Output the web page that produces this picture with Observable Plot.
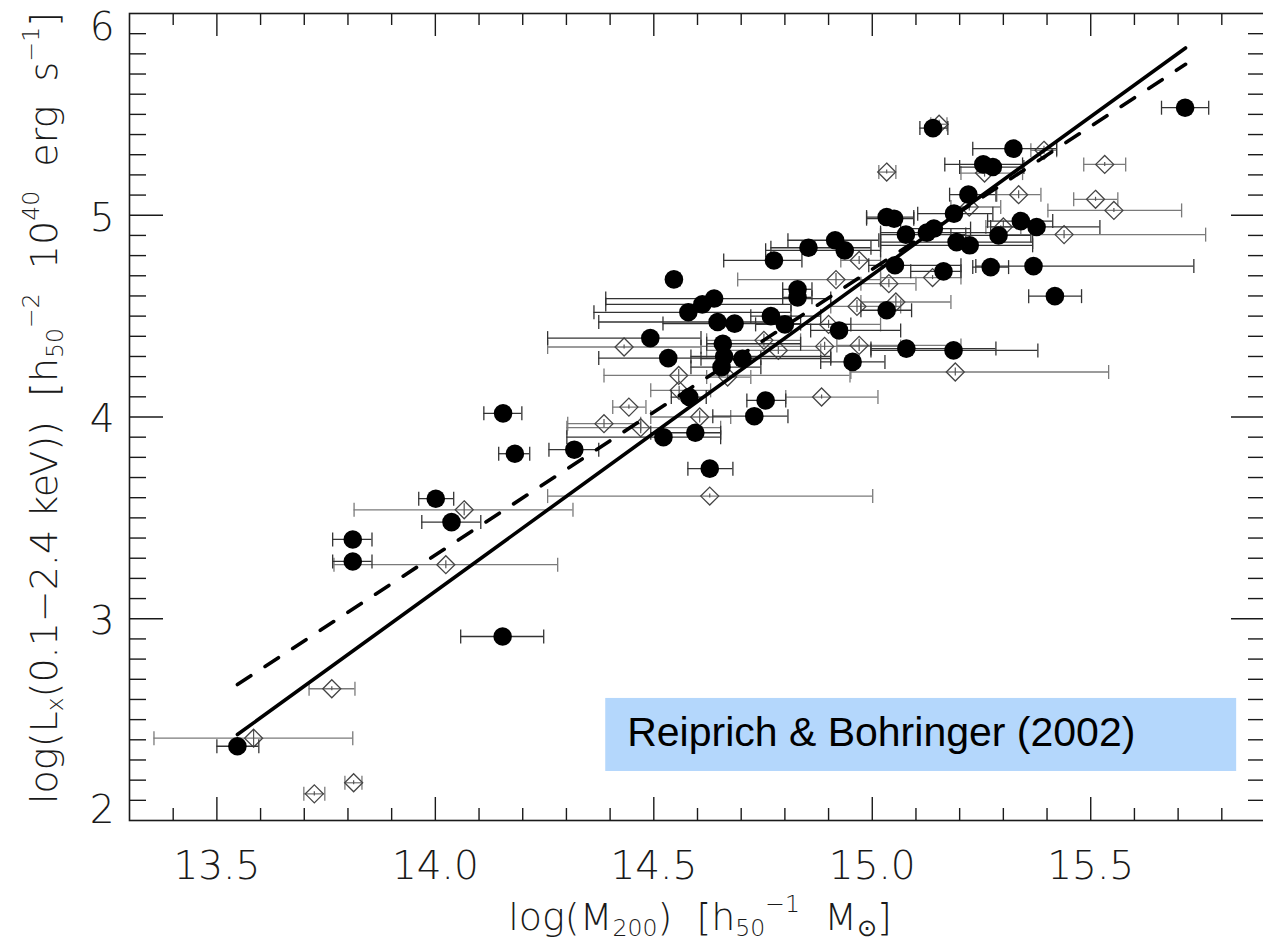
<!DOCTYPE html>
<html><head><meta charset="utf-8">
<script src="https://cdn.jsdelivr.net/npm/d3@7"></script>
<script src="https://cdn.jsdelivr.net/npm/@observablehq/plot@0.6"></script>
<style>
body{margin:0;background:#fff;}
#chart{width:1263px;height:944px;overflow:hidden;}
</style>
</head><body><div id="chart"></div>
<script>
// ---- filled circles: flux-limited sample ----
const circX  = [15.716,15.139,15.323,15.254,15.276,15.220,15.187,15.033,15.050,15.340,15.376,15.077,15.125,15.141,15.289,15.193,15.223,14.937,15.052,15.163,15.271,15.369,15.418,15.033,15.078,15.186,14.955,14.775,14.854,14.915,14.546,14.829,14.829,14.638,14.611,14.579,14.646,14.685,14.768,14.800,14.924,14.492,14.658,14.533,14.661,14.703,14.655,14.756,14.730,14.581,14.522,14.595,14.318,14.628,14.155,14.182,14.001,14.037,13.811,13.811,14.154,13.547];
const circY  = [5.533,5.432,5.330,5.252,5.239,5.102,5.008,4.991,4.983,4.971,4.942,4.904,4.914,4.934,4.900,4.867,4.851,4.826,4.752,4.722,4.743,4.748,4.599,4.529,4.339,4.330,4.273,4.776,4.839,4.876,4.682,4.633,4.593,4.587,4.558,4.519,4.471,4.463,4.500,4.459,4.429,4.391,4.363,4.292,4.300,4.289,4.247,4.082,4.004,4.099,3.900,3.922,3.838,3.744,4.018,3.818,3.595,3.479,3.393,3.284,2.912,2.368];
const circXlo = [15.662,15.109,15.230,15.166,15.200,15.177,15.104,14.987,14.987,15.264,15.271,15.019,15.019,15.065,15.180,15.019,15.019,14.756,14.992,15.088,15.230,15.237,15.358,14.974,14.997,14.997,14.882,14.660,14.768,14.807,14.534,14.795,14.795,14.390,14.390,14.363,14.374,14.521,14.722,14.733,14.859,14.257,14.621,14.374,14.585,14.608,14.585,14.713,14.635,14.540,14.301,14.493,14.260,14.578,14.111,14.145,13.962,13.969,13.765,13.765,14.058,13.500];
const circXhi = [15.770,15.173,15.422,15.344,15.347,15.283,15.276,15.095,15.095,15.413,15.521,15.214,15.294,15.225,15.363,15.367,15.367,15.019,15.203,15.203,15.312,15.736,15.479,15.090,15.283,15.379,15.029,14.839,14.997,15.015,14.560,14.862,14.862,14.905,14.814,14.814,14.814,14.836,14.882,14.951,15.065,14.608,14.836,14.745,14.905,14.905,14.745,14.802,14.807,14.620,14.653,14.653,14.374,14.681,14.198,14.216,14.042,14.104,13.855,13.855,14.248,13.596];

// ---- open diamonds: extended sample ----
const diaX  = [14.066,14.024,13.763,13.584,13.723,13.813,14.970,14.917,15.038,14.965,14.900,14.432,14.752,14.785,14.891,14.970,14.557,14.669,14.558,14.884,14.443,14.386,14.470,14.605,14.628,15.153,15.393,15.033,15.532,15.257,15.335,15.511,15.553,15.222,15.300,15.439,15.138,15.054,15.190];
const diaY  = [3.540,3.268,2.653,2.408,2.132,2.187,4.776,4.681,4.661,4.548,4.459,4.347,4.380,4.330,4.350,4.355,4.206,4.198,4.132,4.099,4.049,3.967,3.947,4.000,3.608,5.451,5.322,5.214,5.252,5.209,5.102,5.079,5.024,5.041,4.942,4.904,4.691,4.570,4.223];
const diaXlo = [13.814,13.768,13.711,13.356,13.699,13.793,14.928,14.692,14.974,14.905,14.814,14.257,14.621,14.621,14.608,14.919,14.386,14.621,14.493,14.802,14.406,14.303,14.301,14.493,14.257,15.134,15.363,15.015,15.484,15.203,15.285,15.461,15.402,15.180,15.260,15.294,15.019,14.974,14.951];
const diaXhi = [14.315,14.280,13.816,13.811,13.747,13.832,15.019,15.019,15.100,15.065,15.019,14.608,14.836,14.882,15.065,15.203,14.949,14.722,14.630,15.013,14.482,14.470,14.653,14.676,15.001,15.171,15.422,15.054,15.580,15.344,15.386,15.562,15.708,15.294,15.340,15.763,15.203,15.180,15.541];
const diaYerr = [0.03,0.02,0.01,0.04,0.01,0.01,0.02,0.03,0.02,0.03,0.02,0.01,0.03,0.02,0.02,0.03,0.03,0.02,0.02,0.01,0.01,0.02,0.03,0.03,0.01,0.02,0.02,0.01,0.01,0.02,0.02,0.01,0.01,0.02,0.03,0.02,0.01,0.03,0.02];

// ---- fitted relations ----
const fitX = [13.547, 15.717];
const fitSolidY = [2.426, 5.829];
const fitDashedY = [2.674, 5.748];

// ---- axes ----
const xDomain = [13.3, 15.9];
const yDomain = [2, 6];
const xTickLabels = [13.5, 14.0, 14.5, 15.0, 15.5];
const yTickLabels = [2, 3, 4, 5, 6];

// ---- annotation ----
const noteLabel = "Reiprich & Bohringer (2002)";
const noteBox = {x1: 14.39, x2: 15.834, y1: 2.243, y2: 2.605, tx: 14.439, ty: 2.434};

const yTitleParts = [["log(L",0],["x",1],["(0.1\u22122.4 keV))  [h",0],["50",1],["\u22122",2],["  10",0],["40",2],["  erg  s",0],["\u22121",2],["]",0]];
const xTitleParts = [["log(M",0],["200",1],[")  [h",0],["50",1],["\u22121",2],["  M",0],["\u2299",1],["]",0]];

const W = 1263, H = 944;
const mL = 129, mR = -2, mT = 13, mB = 124;
const frameW = W - mL - mR, frameH = H - mT - mB;

const circles = circX.map((x, i) => ({x, y: circY[i], lo: circXlo[i], hi: circXhi[i]}));
const diamonds = diaX.map((x, i) => ({x, y: diaY[i], lo: diaXlo[i], hi: diaXhi[i], e: diaYerr[i]}));
const solid = fitX.map((x, i) => ({x, y: fitSolidY[i]}));
const dashed = fitX.map((x, i) => ({x, y: fitDashedY[i]}));

const near = (a, b) => Math.abs(a - b) < 1e-6;
const xMinor = d3.range(134, 159).map(v => v / 10).filter(v => !xTickLabels.some(t => near(t, v)));
const yMinor = d3.range(21, 60).map(v => v / 10).filter(v => !yTickLabels.some(t => near(t, v)));
const yMajorInner = yTickLabels.filter(v => v > yDomain[0] && v < yDomain[1]);

const cap = {draw(ctx, size) { const h = Math.sqrt(size / Math.PI); ctx.moveTo(0, -h); ctx.lineTo(0, h); }};

const font = "DejaVu Sans";
const ink = "#1a1a1a";
const tickFont = 39;

const plot = Plot.plot({
  width: W, height: H,
  marginLeft: mL, marginRight: mR, marginTop: mT, marginBottom: mB,
  style: {fontFamily: font, background: "white"},
  x: {domain: xDomain, axis: null},
  y: {domain: yDomain, axis: null},
  marks: [
    // annotation box
    Plot.rect([noteBox], {x1: "x1", x2: "x2", y1: "y1", y2: "y2", fill: "#b4d7fc"}),
    Plot.text([noteBox], {x: "tx", y: "ty", text: () => noteLabel, textAnchor: "start", lineAnchor: "middle",
      fontSize: 41, fontFamily: "Liberation Sans", fill: "black"}),
    // ticks (inward)
    Plot.tickX(xTickLabels, {x: d => d, insetTop: frameH - 23, stroke: ink, strokeWidth: 1.4}),
    Plot.tickX(xMinor, {x: d => d, insetTop: frameH - 12, stroke: ink, strokeWidth: 1.4}),
    Plot.tickX(xTickLabels, {x: d => d, insetBottom: frameH - 23, stroke: ink, strokeWidth: 1.4}),
    Plot.tickX(xMinor, {x: d => d, insetBottom: frameH - 12, stroke: ink, strokeWidth: 1.4}),
    Plot.tickY(yMajorInner, {y: d => d, insetRight: frameW - 34, stroke: ink, strokeWidth: 1.4}),
    Plot.tickY(yMinor, {y: d => d, insetRight: frameW - 17, stroke: ink, strokeWidth: 1.4}),
    Plot.tickY(yMajorInner, {y: d => d, insetLeft: frameW - 34, stroke: ink, strokeWidth: 1.4}),
    Plot.tickY(yMinor, {y: d => d, insetLeft: frameW - 17, stroke: ink, strokeWidth: 1.4}),
    // diamond error bars
    Plot.ruleY(diamonds, {y: "y", x1: "lo", x2: "hi", stroke: "#7a7a7a", strokeWidth: 1.3}),
    Plot.dot(diamonds, {x: "lo", y: "y", symbol: cap, r: 7, fill: "none", stroke: "#7a7a7a", strokeWidth: 1.3}),
    Plot.dot(diamonds, {x: "hi", y: "y", symbol: cap, r: 7, fill: "none", stroke: "#7a7a7a", strokeWidth: 1.3}),
    Plot.ruleX(diamonds, {x: "x", y1: d => d.y - d.e, y2: d => d.y + d.e, stroke: "#555", strokeWidth: 1.2}),
    Plot.dot(diamonds, {x: "x", y: "y", symbol: "diamond2", r: 8.1, fill: "none", stroke: "#444", strokeWidth: 1.3}),
    // circle error bars
    Plot.ruleY(circles, {y: "y", x1: "lo", x2: "hi", stroke: "#333", strokeWidth: 1.3}),
    Plot.dot(circles, {x: "lo", y: "y", symbol: cap, r: 7, fill: "none", stroke: "#333", strokeWidth: 1.3}),
    Plot.dot(circles, {x: "hi", y: "y", symbol: cap, r: 7, fill: "none", stroke: "#333", strokeWidth: 1.3}),
    Plot.dot(circles, {x: "x", y: "y", r: 9.3, fill: "black", stroke: "none"}),
    // fits
    Plot.line(solid, {x: "x", y: "y", stroke: "black", strokeWidth: 3.6}),
    Plot.line(dashed, {x: "x", y: "y", stroke: "black", strokeWidth: 3.6, strokeDasharray: "16,17"}),
    // frame
    Plot.frame({stroke: ink, strokeWidth: 1.6}),
    // tick labels
    Plot.text(xTickLabels, {x: d => d, frameAnchor: "bottom", dy: 46, text: d => d.toFixed(1),
      fontSize: tickFont, fontWeight: 200, fill: ink, lineAnchor: "middle"}),
    Plot.text(yMajorInner, {y: d => d, frameAnchor: "left", dx: -15, dy: 3, text: d => String(d),
      fontSize: tickFont, fontWeight: 200, fill: ink, textAnchor: "end", lineAnchor: "middle"}),
    Plot.text(yTickLabels.filter(v => v === yDomain[1]), {y: d => d, frameAnchor: "left", dx: -15, dy: 14, text: d => String(d),
      fontSize: tickFont, fontWeight: 200, fill: ink, textAnchor: "end", lineAnchor: "middle"}),
    Plot.text(yTickLabels.filter(v => v === yDomain[0]), {y: d => d, frameAnchor: "left", dx: -15, dy: -10, text: d => String(d),
      fontSize: tickFont, fontWeight: 200, fill: ink, textAnchor: "end", lineAnchor: "middle"})
  ]
});

document.getElementById("chart").appendChild(plot);

function richText(sel, parts, size) {
  let prev = 0;
  parts.forEach(([t, k]) => {
    const shift = k === 1 ? 0.17 * size : k === 2 ? -0.48 * size : 0;
    sel.append("tspan").attr("font-size", k ? size * 0.62 : size).attr("dy", shift - prev).text(t);
    prev = shift;
  });
}
const svg = d3.select(plot);
const yt = svg.append("text").attr("transform", "translate(57,408) rotate(-90)")
  .attr("text-anchor", "middle").attr("font-family", font).attr("font-weight", 200)
  .attr("fill", ink).style("white-space", "pre");
richText(yt, yTitleParts, 38);
const xt = svg.append("text").attr("transform", "translate(700,930)")
  .attr("text-anchor", "middle").attr("font-family", font).attr("font-weight", 200)
  .attr("fill", ink).style("white-space", "pre");
richText(xt, xTitleParts, 38);
</script>
</body></html>
